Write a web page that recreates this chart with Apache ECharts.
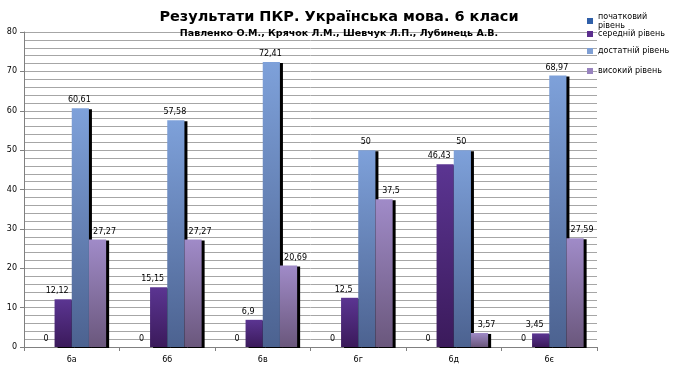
<!DOCTYPE html>
<html><head><meta charset="utf-8">
<script src="https://cdn.jsdelivr.net/npm/echarts@6/dist/echarts.min.js"></script>
<style>html,body{margin:0;padding:0;background:#fff}#c{width:678px;height:370px}</style>
</head><body><div id="c"></div>
<script>
const categories = ['6а','6б','6в','6г','6д','6є'];
const seriesNames = ['початковий рівень','середній рівень','достатній рівень','високий рівень'];
const initialLevel = [0,0,0,0,0,0];
const middleLevel = [12.12,15.15,6.9,12.5,46.43,3.45];
const sufficientLevel = [60.61,57.58,72.41,50,50,68.97];
const highLevel = [27.27,27.27,20.69,37.5,3.57,27.59];
const yTicks = {min:0, max:80, interval:10};

const grads = [
  ['#3f6fb8','#24467e'],
  ['#5b3592','#3b1a5b'],
  ['#7ea1da','#4c6290'],
  ['#a08bc8','#6a577c']
];
const legendColors = ['#2f5fa8','#5b2e8e','#7f9fd4','#9883bf'];
const legendTops = [12, 29.5, 46.5, 66.5];
const labelShift = [0, -6, -1, 7];
const values = [initialLevel, middleLevel, sufficientLevel, highLevel];
const font = 'DejaVu Sans, Verdana, sans-serif';

const chart = echarts.init(document.getElementById('c'), null, {renderer:'canvas'});
chart.setOption({
  animation:false,
  textStyle:{fontFamily:font},
  title:{
    text:'Результати ПКР. Українська мова. 6 класи',
    subtext:'Павленко О.М., Крячок Л.М., Шевчук Л.П., Лубинець А.В.',
    left:'center', top:5, itemGap:4,
    textStyle:{fontFamily:font, fontSize:14.5, fontWeight:'bold', color:'#000'},
    subtextStyle:{fontFamily:font, fontSize:9.5, fontWeight:'bold', color:'#000'}
  },
  legend:seriesNames.map((n,i)=>({
    orient:'vertical', left:587, top:legendTops[i], padding:0, itemWidth:6, itemHeight:6,
    icon:'rect',
    textStyle:{fontFamily:font, fontSize:8, color:'#000', lineHeight:9},
    formatter:function(s){return s==='початковий рівень' ? 'початковий\nрівень' : s;},
    data:[{name:n, itemStyle:{color:legendColors[i]}}]
  })),
  grid:{left:24, right:81, top:32, bottom:23},
  xAxis:{
    type:'category', data:categories,
    axisLine:{lineStyle:{color:'#808080'}},
    axisTick:{show:true, length:4, lineStyle:{color:'#808080'}},
    axisLabel:{fontFamily:font, fontSize:8, color:'#000', margin:9}
  },
  yAxis:{
    type:'value', min:yTicks.min, max:yTicks.max, interval:yTicks.interval,
    axisLine:{show:true, lineStyle:{color:'#808080'}},
    axisTick:{show:true, length:4, lineStyle:{color:'#808080'}},
    axisLabel:{fontFamily:font, fontSize:8, color:'#000', margin:7},
    splitLine:{show:true, lineStyle:{color:'#a6a6a6', width:1}},
    minorTick:{show:false, splitNumber:5},
    minorSplitLine:{show:true, lineStyle:{color:'#a6a6a6', width:1}}
  },
  series:seriesNames.map((n,i)=>({
    name:n, type:'bar', data:values[i],
    barGap:'0%', barCategoryGap:'28%',
    itemStyle:{
      color:new echarts.graphic.LinearGradient(0,0,0,1,[{offset:0,color:grads[i][0]},{offset:1,color:grads[i][1]}]),
      shadowColor:'#000', shadowOffsetX:3, shadowOffsetY:1, shadowBlur:0
    },
    label:{
      show:true, position:'top', distance:4, offset:[labelShift[i],0],
      fontFamily:font, fontSize:8, color:'#000',
      formatter:function(p){return String(p.value).replace('.',',');}
    }
  }))
});
</script></body></html>
